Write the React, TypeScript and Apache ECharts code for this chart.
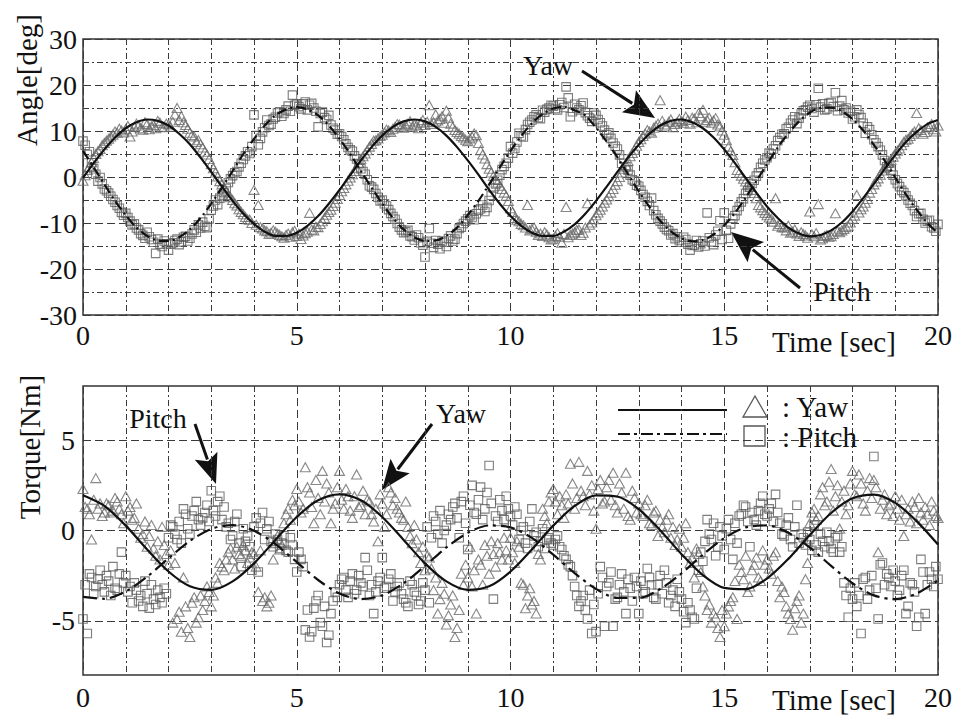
import React, { useEffect, useRef } from "react";
import * as echarts from "echarts";

const SERIF = "Liberation Serif, Times New Roman, serif";
const INK = "#111";
const GRID_INK = "#3a3a3a";
const TRI_INK = "#6a6a6a";
const SQR_INK = "#5c5c5c";

// Sampling periods (seconds): measured points (two interleaved channels) and fitted curves
const SAMPLE_DT = 0.1;
const SAMPLE_B_T0 = 0.05;
const ANGLE_FIT_DT = 0.25;
const TORQUE_FIT_DT = 0.5;

// Axis ticks
const angleTicks = [-30, -20, -10, 0, 10, 20, 30];
const torqueTicks = [-5, 0, 5];
const timeTicks = [0, 5, 10, 15, 20];

// Fitted curves
const angleYawFit = [
  -0.2, 3.0, 6.0, 8.6, 10.6, 11.9, 12.5, 12.2, 11.2, 9.4, 7.1, 4.2, 1.1, -2.1, -5.2, -8.0, -10.2, -11.9, -12.8, -12.8,
  -12.1, -10.6, -8.5, -5.8, -2.8, 0.4, 3.6, 6.5, 9.0, 10.9, 12.1, 12.5, 12.1, 10.9, 9.0, 6.5, 3.6, 0.5, -2.8, -5.8,
  -8.5, -10.6, -12.1, -12.8, -12.8, -11.9, -10.3, -8.0, -5.2, -2.1, 1.1, 4.2, 7.0, 9.4, 11.2, 12.2, 12.5, 11.9, 10.6,
  8.6, 6.0, 3.0, -0.2, -3.4, -6.4, -8.9, -11.0, -12.3, -12.9, -12.6, -11.6, -9.9, -7.5, -4.6, -1.5, 1.7, 4.8, 7.6, 9.8,
  11.5, 12.4,
];
const anglePitchFit = [
  5.7, 2.1, -1.6, -5.2, -8.3, -11.0, -12.8, -13.8, -13.9, -13.1, -11.4, -8.9, -5.8, -2.3, 1.3, 5.0, 8.3, 11.2, 13.4,
  14.7, 15.2, 14.7, 13.4, 11.2, 8.3, 5.0, 1.3, -2.3, -5.8, -8.9, -11.4, -13.1, -13.9, -13.8, -12.8, -11.0, -8.3, -5.2,
  -1.6, 2.1, 5.7, 8.9, 11.7, 13.7, 14.9, 15.2, 14.5, 13.4, 10.7, 7.7, 4.3, 0.6, -3.1, -6.5, -9.5, -11.8, -13.3, -14.0,
  -13.7, -12.5, -10.5, -7.8, -4.5, -0.9, 2.8, 6.4, 9.5, 12.1, 14.0, 15.0, 15.1, 14.3, 12.6, 10.1, 7.0, 3.6, -0.1, -3.8,
  -7.1, -10.0, -12.2,
];
const torqueYawFit = [
  1.95, 1.36, 0.27, -1.05, -2.27, -3.09, -3.29, -2.82, -1.82, -0.52, 0.75, 1.67, 2.0, 1.67, 0.75, -0.52, -1.82, -2.82,
  -3.29, -3.09, -2.27, -1.05, 0.27, 1.36, 1.95, 1.88, 1.18, 0.02, -1.31, -2.47, -3.18, -3.25, -2.66, -1.57, -0.25, 0.97,
  1.78, 1.99, 1.53, 0.52, -0.78,
];
const torquePitchFit = [
  -3.67, -3.78, -3.37, -2.56, -1.54, -0.58, 0.09, 0.3, -0.01, -0.76, -1.75, -2.74, -3.49, -3.8, -3.59, -2.92, -1.96,
  -0.94, -0.13, 0.28, 0.17, -0.41, -1.34, -2.36, -3.23, -3.73, -3.73, -3.24, -2.37, -1.34, -0.42, 0.17, 0.28, -0.13,
  -0.94, -1.96, -2.92, -3.59, -3.8, -3.49, -2.75,
];

// Measured points, channel A (t = 0, 0.1, ... 20)
const angleYawData = [
  -0.8, 1.5, 3.2, 5.0, 6.1, 7.4, 8.3, 9.2, 9.6, 10.1,
  10.4, 8.8, 10.9, 11.2, 10.3, 11.5, 11.0, 10.6, 11.8, 10.9,
  11.4, 12.0, 15.0, 13.2, 11.3, 9.6, 8.8, 8.0, 6.4, 4.9,
  2.8, 1.0, -0.9, -2.3, -3.9, -5.0, -6.2, -7.6, -8.7, -9.3,
  -2.8, -6.1, -11.2, -11.8, -12.1, -11.9, -12.6, -13.2, -12.3, -12.0,
  -12.8, -13.5, -12.2, -7.8, -11.6, -10.9, -9.6, -8.2, -7.1, -5.6,
  -3.9, -2.4, -0.8, 0.6, 2.0, 3.9, 5.1, 6.6, 7.9, 8.4,
  9.2, 10.3, 9.8, 10.9, 11.4, 10.7, 11.6, 10.9, 11.2, 11.8,
  11.3, 15.6, 11.9, 12.3, 13.2, 14.4, 11.6, 10.2, 9.4, 8.6,
  7.8, 8.8, 9.1, 5.8, 4.0, 1.8, 0.2, -1.2, -2.6, -4.1,
  -6.8, -8.9, -9.6, -10.5, -6.1, -11.3, -11.9, -12.3, -12.0, -13.1,
  -13.4, -12.2, -14.3, -6.5, -12.6, -12.0, -11.4, -12.1, -5.7, -9.9,
  -8.3, -7.1, -5.6, -4.2, -2.6, -0.9, 1.0, 2.6, 4.5, 5.9,
  7.6, 8.9, 10.2, 9.6, 11.1, 16.7, 11.4, 12.0, 10.8, 11.9,
  12.2, 13.1, 11.6, 12.7, 13.9, 14.6, 12.4, 11.8, 12.8, 11.0,
  9.2, 6.6, 4.8, 1.5, 0.3, -1.0, -2.1, -3.5, -6.1, -7.2,
  -8.3, -9.1, -4.6, -10.2, -11.0, -10.6, -11.9, -12.3, -12.0, -12.7,
  -7.5, -12.9, -5.9, -13.3, -12.6, -12.9, -7.9, -12.0, -11.3, -10.6,
  -9.1, -3.9, -7.0, -5.6, -3.4, -1.6, -0.3, 1.4, 2.5, 3.7,
  5.1, 6.2, 7.6, 8.3, 9.4, 13.9, 10.2, 9.8, 11.0, 10.4, 11.2,
];
const anglePitchData = [
  7.8, 4.9, 3.1, 0.6, -0.1, -2.6, -3.5, -4.9, -6.2, -7.7,
  -7.9, -9.6, -10.2, -11.5, -12.7, -12.0, -13.6, -16.6, -14.6, -13.9,
  -15.9, -14.3, -13.5, -14.1, -12.9, -13.3, -11.5, -10.4, -9.8, -11.0,
  -7.2, -5.0, -4.6, -3.4, -1.2, 0.3, 1.2, 3.0, 4.6, 5.1,
  13.5, 7.0, 9.8, 12.4, 11.5, 13.0, 14.2, 13.8, 15.4, 17.8,
  15.9, 14.8, 16.3, 15.6, 15.0, 10.9, 14.1, 12.5, 11.3, 10.2,
  9.4, 8.1, 6.4, 5.6, 3.9, 1.8, 0.6, -1.9, -2.7, -4.4,
  -5.0, -6.3, -7.9, -9.2, -10.9, -12.1, -11.6, -13.0, -12.6, -14.3,
  -17.4, -11.2, -15.3, -14.6, -13.9, -15.1, -12.8, -13.5, -11.2, -10.1,
  -9.1, -8.8, -8.0, -6.9, -7.5, -5.1, -2.4, -0.7, 1.6, 3.0,
  6.6, 6.2, 9.5, 8.7, 11.4, 12.4, 13.5, 12.7, 14.1, 15.0,
  15.4, 14.6, 16.2, 19.6, 13.1, 15.8, 14.6, 16.1, 13.3, 12.1,
  13.4, 11.8, 10.2, 9.6, 7.4, 6.1, 3.0, 2.2, 0.4, -0.9,
  -2.0, -3.8, -5.3, -4.6, -8.2, -9.6, -10.9, -11.7, -12.3, -13.0,
  -14.2, -13.6, -15.9, -14.8, -15.2, -13.9, -7.8, -14.1, -12.6, -9.5,
  -7.8, -13.3, -9.0, -7.3, -5.4, -3.6, -2.2, -0.7, 0.9, 3.0,
  4.2, 5.0, 6.8, 8.6, 9.4, 10.8, 12.4, 11.6, 13.7, 14.6,
  15.6, 14.1, 19.3, 15.9, 14.8, 16.2, 18.3, 15.4, 14.6, 13.9,
  12.6, 14.6, 12.9, 9.5, 10.3, 8.1, 6.6, 4.8, 2.2, 1.5,
  -0.6, -2.1, -3.4, -5.0, -6.2, -8.6, -7.9, -10.0, -9.4, -11.1, -10.3,
];
const torqueYawData = [
  2.3, 1.2, -0.5, 2.9, 1.5, 1.0, 1.4, 1.1, 1.6, 0.9,
  1.9, 1.3, 0.7, 0.1, -0.2, -0.9, 0.3, -1.4, -1.6, -0.8,
  -1.9, -5.1, -4.9, -5.6, -4.2, -5.9, -3.7, -4.8, -4.4, -3.1,
  -4.2, -2.6, -1.8, -2.2, -1.2, -1.6, -0.9, -1.4, -1.1, -1.5,
  -1.3, -3.4, -3.9, -4.2, -3.6, -0.7, -1.05, 0.4, 1.2, 1.7,
  2.3, 1.0, 3.5, 2.1, 0.4, 1.8, 3.3, 2.6, 0.4, 1.5,
  3.3, 1.2, 1.9, 0.7, 3.1, 1.4, 0.9, 1.6, 0.5, -0.6,
  1.5, 0.9, 2.1, 1.8, 1.0, 0.6, 0.2, -0.7, -0.5, -1.8,
  -2.2, -1.5, -3.3, -4.6, -2.9, -5.2, -4.1, -5.9, -4.4, -3.0,
  -2.6, -3.1, -4.6, -1.9, -0.8, -2.4, -1.3, -0.7, -1.6, -1.1,
  -0.4, -1.8, -0.9, -3.0, -3.6, -4.1, -4.6, -1.6, 0.8, 1.6,
  2.3, 0.9, 1.4, 2.0, 3.7, 1.2, 3.8, 1.9, 3.3, 2.5,
  0.1, 2.8, 1.6, 2.8, 3.2, 1.0, 2.1, 3.2, 0.6, 1.8,
  1.5, 0.8, 1.7, 0.3, 1.1, 0.6, -0.1, 0.9, 0.2, -0.5,
  -0.9, 0.4, -1.8, -2.6, -1.3, -3.1, -4.4, -5.1, -4.8, -5.9,
  -5.3, -4.2, -3.7, -4.9, -2.3, -1.4, -3.1, -1.9, -2.6, -1.1,
  -1.6, -2.4, -1.2, -3.7, -3.4, -4.6, -5.5, -3.9, -5.1, -2.7,
  0.4, 1.2, 0.8, 2.4, 1.6, 3.4, 1.9, 0.1, 2.2, 1.4,
  3.3, 1.9, 2.6, 1.1, 2.9, 2.8, -1.2, 1.7, 0.9, 1.5,
  1.9, 0.6, -0.3, 1.2, 1.6, 0.4, 1.0, 1.3, 0.3, 1.1, 0.7,
];
const torquePitchData = [
  -4.9, -5.7, -2.6, -3.1, -2.2, -3.4, -2.8, -2.0, -3.3, -1.2,
  -2.5, -3.1, -2.9, -3.9, -4.2, -3.5, -3.0, -4.1, -3.7, -3.2,
  -0.4, 0.2, -0.5, -0.7, 0.9, -0.2, 1.1, 0.6, 0.7, 1.4,
  2.2, 0.8, 1.9, 1.3, 0.4, -0.3, 0.9, -2.0, -0.6, -0.9,
  0.2, -2.3, 1.0, 0.1, -0.6, -0.2, -1.0, -0.3, -1.2, -0.8,
  -2.3, -1.6, -5.5, -5.9, -4.3, -3.6, -5.3, -6.2, -4.6, -3.4,
  -3.0, -2.6, -3.7, -2.4, -3.3, -2.9, -1.5, -3.6, -4.6, -2.8,
  -1.5, -3.1, -2.4, -3.4, -2.9, -3.8, -4.2, -3.0, -3.6, -3.9,
  -3.3, -4.0, 0.8, -0.2, -0.7, 0.3, 0.6, 1.5, -0.4, 1.9,
  -1.05, 2.5, 0.9, 2.4, 1.2, 3.6, -3.8, 0.5, 1.1, 1.9,
  0.8, 1.3, -0.5, 0.2, -1.0, 1.2, -0.1, -0.6, -1.0, -0.4,
  -0.8, -0.3, -1.05, -1.6, -2.0, -3.1, -4.2, -3.6, -4.9, -5.7,
  -5.6, -2.0, -5.3, -2.9, -5.3, -3.7, -2.4, -4.6, -3.2, -2.6,
  -4.6, -3.5, -2.1, -3.0, -3.8, -2.5, -2.2, -4.0, -3.3, -2.7,
  -3.8, -5.1, -4.4, -4.9, -2.2, -1.7, 0.6, -0.5, -1.4, 0.2,
  -1.05, 0.6, -1.6, -0.7, 0.9, 1.3, -0.9, 0.6, 1.1, 1.9,
  0.8, 1.5, 2.0, 0.4, -0.3, 0.7, -0.9, 1.4, -0.2, -0.8,
  -0.5, 0.3, -1.2, -0.6, -0.1, -1.0, -0.4, -1.2, -2.9, -4.8,
  -3.8, -4.2, -5.7, -2.6, -3.3, 4.1, -4.9, -1.8, -2.4, -3.1,
  -2.8, -3.3, -2.2, -4.2, -3.0, -5.3, -1.6, -4.6, -2.3, -3.1, -2.7,
];

// Measured points, channel B (t = 0.05, 0.15, ... 19.95)
const angleYawDataB = [
  0.4, 2.2, 4.1, 5.6, 6.9, 7.9, 8.8, 9.9, 10.5, 9.7,
  11.1, 9.9, 11.6, 10.6, 11.9, 10.4, 11.3, 12.2, 10.8, 11.6,
  10.9, 13.6, 12.4, 11.9, 10.5, 9.1, 7.6, 7.1, 5.5, 3.9,
  1.9, 0.1, -1.6, -3.1, -4.4, -5.7, -7.0, -8.1, -9.2, -10.0,
  -10.4, -10.9, -11.6, -12.4, -11.6, -12.3, -12.9, -12.6, -13.0, -11.7,
  -12.3, -12.7, -11.9, -11.4, -10.8, -10.2, -8.9, -7.6, -6.3, -4.8,
  -3.1, -1.6, -0.1, 1.3, 3.0, 4.5, 5.8, 7.2, 8.0, 8.9,
  9.7, 10.1, 10.5, 11.5, 10.9, 11.2, 12.1, 11.4, 10.6, 12.4,
  12.0, 11.5, 13.6, 12.6, 11.8, 12.9, 10.9, 9.8, 8.9, 8.1,
  8.4, 9.5, 7.4, 4.9, 2.8, 1.0, -0.6, -1.9, -3.4, -5.2,
  -7.6, -9.3, -10.2, -11.0, -11.6, -11.0, -12.6, -12.8, -12.5, -13.6,
  -12.8, -13.0, -12.4, -13.1, -12.3, -11.5, -12.6, -11.0, -10.4, -9.2,
  -7.7, -6.4, -4.9, -3.4, -1.7, 0.0, 1.8, 3.5, 5.2, 6.8,
  8.2, 9.4, 9.9, 10.7, 11.6, 12.2, 11.0, 12.5, 11.5, 12.6,
  11.8, 12.4, 12.9, 11.9, 13.2, 12.0, 12.9, 12.3, 11.4, 10.1,
  8.0, 5.6, 3.2, 0.9, -0.4, -1.6, -2.8, -4.6, -6.6, -7.8,
  -8.8, -9.7, -10.6, -10.9, -11.6, -12.1, -11.4, -12.8, -12.4, -13.2,
  -12.5, -12.2, -13.6, -12.8, -13.0, -12.4, -11.8, -11.6, -10.9, -9.9,
  -8.4, -7.7, -6.4, -4.8, -2.6, -1.0, 0.5, 1.9, 3.1, 4.4,
  5.7, 6.9, 8.1, 8.9, 9.9, 10.6, 9.4, 10.8, 11.5, 9.9,
];
const anglePitchDataB = [
  6.9, 5.5, 1.8, -0.9, -1.5, -3.0, -4.2, -5.5, -6.8, -8.3,
  -8.8, -10.4, -11.1, -12.3, -13.3, -13.0, -14.2, -13.5, -15.1, -14.5,
  -14.6, -13.8, -14.7, -13.1, -13.9, -12.4, -12.0, -11.1, -10.7, -9.1,
  -6.3, -6.0, -3.9, -2.5, -0.4, 0.9, 2.2, 3.8, 5.5, 6.6,
  9.0, 8.4, 10.7, 11.2, 12.6, 13.9, 13.2, 14.6, 14.3, 15.6,
  15.3, 15.9, 14.6, 16.0, 14.3, 13.8, 12.9, 13.4, 10.6, 9.3,
  8.8, 7.2, 5.9, 4.6, 2.9, 1.2, -0.6, -2.2, -3.6, -5.2,
  -5.8, -7.1, -8.6, -10.1, -11.5, -11.9, -12.8, -13.7, -13.2, -14.8,
  -14.0, -14.4, -13.8, -15.6, -14.2, -13.4, -13.9, -12.3, -10.9, -9.6,
  -8.4, -9.3, -7.2, -6.1, -6.6, -4.0, -1.5, 0.4, 2.3, 4.1,
  5.2, 7.6, 8.9, 10.3, 11.9, 13.1, 12.9, 14.5, 14.7, 15.6,
  14.9, 15.7, 15.1, 17.2, 14.2, 15.0, 15.5, 14.0, 12.8, 13.9,
  12.5, 11.1, 9.2, 8.4, 6.7, 4.8, 3.9, 1.5, -0.6, -1.8,
  -2.9, -4.4, -6.2, -7.3, -9.0, -10.2, -11.4, -12.6, -13.4, -13.8,
  -13.1, -14.6, -14.9, -13.8, -14.5, -15.0, -13.2, -14.7, -11.8, -13.6,
  -11.6, -10.2, -8.4, -6.4, -4.7, -3.0, -1.4, 0.2, 2.1, 3.7,
  5.2, 6.1, 7.9, 9.3, 10.5, 11.7, 13.1, 12.8, 14.4, 15.2,
  14.9, 15.7, 15.2, 14.6, 16.0, 15.3, 14.4, 16.6, 15.0, 14.3,
  13.1, 13.6, 11.7, 10.9, 9.2, 7.4, 5.8, 3.6, 3.0, 0.4,
  -1.4, -2.9, -4.1, -5.7, -7.3, -8.0, -9.2, -9.6, -10.8, -11.8,
];
const torqueYawDataB = [
  1.3, 0.9, 1.7, 1.2, 0.8, 1.5, 1.0, 1.8, 1.2, 0.4,
  1.1, 0.6, 1.5, -0.4, 0.5, -0.3, -1.0, -0.6, 0.2, -1.3,
  -1.1, -1.8, -4.5, -2.6, -5.4, -4.0, -5.1, -3.6, -3.9, -3.4,
  -3.6, -2.9, -2.0, -1.6, -1.0, -2.1, -1.3, -0.8, -1.8, -1.2,
  -2.0, -1.1, -3.7, -4.0, -1.6, -0.3, -0.8, 0.9, 0.6, 1.4,
  1.6, 1.2, 2.4, 1.3, 2.8, 0.9, 1.6, 2.1, 1.2, 2.4,
  1.7, 2.3, 1.1, 1.9, 1.3, 2.2, 1.7, 0.9, 1.2, 2.0,
  0.2, 2.4, 1.4, 1.2, 0.7, 1.6, -0.3, 0.3, -1.2, -0.9,
  -1.4, -2.1, -2.6, -3.8, -3.5, -4.7, -3.6, -5.4, -2.4, -1.9,
  -0.9, -2.2, -1.6, -3.0, -1.4, -0.6, -2.0, -1.2, -0.4, -1.6,
  -1.2, -0.6, -2.9, -4.3, -3.2, -3.9, -1.3, 1.2, 0.4, 2.1,
  1.6, 1.9, 0.7, 1.5, 2.6, 1.8, 2.2, 1.4, 2.0, 1.1,
  2.3, 1.5, 2.4, 1.7, 1.4, 2.6, 1.2, 0.8, 2.2, 1.0,
  0.9, 1.4, 0.4, 1.0, -0.3, 0.2, 0.6, -0.4, -0.8, 0.1,
  -0.4, -1.2, -1.5, -1.0, -2.3, -3.6, -4.1, -4.6, -5.4, -4.4,
  -4.6, -3.9, -2.8, -1.9, -2.7, -3.4, -2.2, -1.5, -2.8, -1.9,
  -2.1, -1.4, -2.8, -3.1, -4.2, -4.9, -4.3, -3.6, -4.6, -1.8,
  1.0, 0.6, 2.0, 1.4, 2.7, 1.1, 2.5, 1.6, 0.9, 2.6,
  2.0, 3.1, 1.5, 2.2, 1.8, 2.4, 1.2, 2.0, 1.4, 0.8,
  1.2, 1.7, 0.9, 0.5, 1.3, 1.8, 0.6, 0.9, 1.6, 0.8,
];
const torquePitchDataB = [
  -3.0, -2.4, -3.5, -2.7, -3.0, -2.5, -3.6, -3.2, -2.4, -2.9,
  -3.4, -4.0, -3.3, -3.6, -2.8, -4.3, -3.8, -3.3, -4.0, -3.5,
  0.3, -0.2, 0.5, 1.2, 0.1, 0.8, 1.6, 0.3, 1.0, 0.5,
  1.1, 1.6, 0.6, 0.2, -0.5, 0.5, -0.7, 0.1, -0.3, -2.2,
  0.7, 0.4, -0.5, 0.5, -0.9, -0.5, -0.7, -1.1, -0.4, -1.6,
  -1.2, -2.0, -4.4, -5.6, -3.9, -5.1, -4.2, -5.8, -3.9, -3.7,
  -2.7, -3.3, -2.8, -3.5, -2.5, -3.1, -2.2, -3.0, -3.4, -2.6,
  -3.2, -2.7, -3.9, -3.1, -3.5, -4.0, -2.8, -3.4, -4.1, -2.9,
  0.2, -0.4, 0.5, 1.1, 0.0, 0.9, 1.3, 0.7, 1.6, 0.4,
  1.4, 1.0, 1.7, 0.6, 2.1, 1.5, 0.8, 1.7, 0.6, 1.2,
  0.3, 0.9, 0.0, -0.7, 0.5, -0.3, -0.9, 0.1, -0.5, -0.7,
  -0.5, -0.9, -1.4, -1.9, -2.5, -3.6, -3.9, -4.4, -3.3, -4.1,
  -3.5, -2.6, -3.1, -2.3, -3.8, -3.0, -3.4, -2.7, -3.9, -3.1,
  -2.8, -3.4, -2.6, -3.7, -3.0, -3.5, -2.9, -3.6, -4.2, -3.4,
  -4.5, -4.0, -4.8, -3.2, -1.2, -0.6, -0.2, 0.4, -0.9, -0.3,
  0.1, -0.5, 0.4, 0.8, 1.4, 0.5, 1.0, 0.3, 1.5, 0.9,
  1.2, 0.5, 1.0, -0.2, 0.3, -0.5, 0.2, -0.7, -0.4, -0.1,
  -1.1, -0.8, -0.2, -0.9, -0.6, -1.2, -0.3, -0.9, -3.6, -3.2,
  -2.9, -3.6, -2.7, -3.8, -2.5, -3.2, -1.9, -3.0, -2.6, -2.2,
  -3.6, -2.5, -4.6, -2.9, -3.4, -4.8, -2.3, -3.0, -2.7, -2.0,
];

const toPairs = (values: number[], dt: number, t0 = 0) =>
  values.map((v, i) => [Math.round((t0 + i * dt) * 1000) / 1000, v]);

const DASH = [8, 4];
const DASH_DOT = [6, 3, 2, 3];

function arrow(x1: number, y1: number, x2: number, y2: number, len = 30, half = 12) {
  const dx = x2 - x1;
  const dy = y2 - y1;
  const d = Math.hypot(dx, dy);
  const ux = dx / d;
  const uy = dy / d;
  const bx = x2 - ux * len;
  const by = y2 - uy * len;
  const px = -uy * half;
  const py = ux * half;
  return [
    {
      type: "line",
      silent: true,
      shape: { x1, y1, x2: bx + ux * 4, y2: by + uy * 4 },
      style: { stroke: INK, lineWidth: 3 },
    },
    {
      type: "polygon",
      silent: true,
      shape: { points: [[x2, y2], [bx + px, by + py], [bx + ux * 6, by + uy * 6], [bx - px, by - py]] },
      style: { fill: INK },
    },
  ];
}

function label(text: string, x: number, y: number, size = 28, rotation = 0, align = "center", lineHeight?: number) {
  return {
    type: "text",
    silent: true,
    x,
    y,
    rotation,
    style: {
      text,
      fill: INK,
      fontFamily: SERIF,
      fontSize: size,
      align,
      verticalAlign: "middle",
      ...(lineHeight ? { lineHeight } : {}),
    },
  };
}

function timeAxis(gridIndex: number, margin: number) {
  return {
    type: "value",
    gridIndex,
    min: timeTicks[0],
    max: timeTicks[timeTicks.length - 1],
    interval: 5,
    axisLine: { show: false },
    axisTick: { show: false },
    axisLabel: {
      margin,
      color: INK,
      fontFamily: SERIF,
      fontSize: 28,
      formatter: (v: number) => (timeTicks.includes(v) ? String(v) : ""),
    },
    splitLine: { show: true, lineStyle: { color: GRID_INK, width: 1, type: DASH } },
    minorTick: { show: true, splitNumber: 5, length: 0 },
    minorSplitLine: { show: true, lineStyle: { color: GRID_INK, width: 1, type: DASH_DOT } },
  };
}

function scatter(a: number[], b: number[], xi: number, symbol: string, size: number[] | number, ink: string) {
  return {
    type: "scatter",
    xAxisIndex: xi,
    yAxisIndex: xi,
    symbol,
    symbolSize: size,
    data: [...toPairs(a, SAMPLE_DT), ...toPairs(b, SAMPLE_DT, SAMPLE_B_T0)],
    itemStyle: { color: "rgba(255,255,255,0)", borderColor: ink, borderWidth: 1.1 },
    z: 3,
  };
}

function fitLine(values: number[], dt: number, xi: number, type: any) {
  return {
    type: "line",
    xAxisIndex: xi,
    yAxisIndex: xi,
    data: toPairs(values, dt),
    smooth: 0.3,
    showSymbol: false,
    lineStyle: { color: INK, width: 2.2, type },
    z: 5,
  };
}

export default function App() {
  const ref = useRef<HTMLDivElement>(null);

  useEffect(() => {
    if (!ref.current) return;
    const chart = echarts.init(ref.current, undefined, { renderer: "svg" });

    const graphic: any[] = [
      label("Angle[deg]", 27, 80, 29, Math.PI / 2),
      label("Torque[Nm]", 30, 447, 29, Math.PI / 2),
      label("Time [sec]", 834, 342, 29),
      label("Time [sec]", 834, 700, 29),
      label("Yaw", 548, 65, 28),
      label("Pitch", 842, 291, 28),
      label("Pitch", 158, 418, 28),
      label("Yaw", 461, 413, 28),
      ...arrow(582, 71, 655, 118, 31, 13),
      ...arrow(800, 288, 731, 232, 32, 13),
      ...arrow(195, 424, 216, 484, 30, 12),
      ...arrow(432, 424, 382, 490, 30, 12),
      // legend
      { type: "line", silent: true, shape: { x1: 618, y1: 410, x2: 727, y2: 410 }, style: { stroke: INK, lineWidth: 2.2 } },
      {
        type: "line",
        silent: true,
        shape: { x1: 618, y1: 434, x2: 727, y2: 434 },
        style: { stroke: INK, lineWidth: 2.2, lineDash: [12, 4, 3, 4] },
      },
      {
        type: "polygon",
        silent: true,
        shape: { points: [[755, 396], [743, 417], [767, 417]] },
        style: { fill: "none", stroke: "#555", lineWidth: 1.3 },
      },
      {
        type: "rect",
        silent: true,
        shape: { x: 744, y: 426, width: 21, height: 20 },
        style: { fill: "none", stroke: "#555", lineWidth: 1.3 },
      },
      label(": Yaw", 782, 407, 29, 0, "left", 27),
      label(": Pitch", 782, 437, 29, 0, "left", 27),
    ];

    chart.setOption({
      animation: false,
      backgroundColor: "#fff",
      textStyle: { fontFamily: SERIF },
      grid: [
        { left: 83, top: 39, width: 856, height: 276, show: true, borderColor: "#333", borderWidth: 1.5 },
        { left: 83, top: 386, width: 856, height: 289, show: true, borderColor: "#333", borderWidth: 1.5 },
      ],
      xAxis: [timeAxis(0, 6), timeAxis(1, 8)],
      yAxis: [
        {
          type: "value",
          gridIndex: 0,
          min: angleTicks[0],
          max: angleTicks[angleTicks.length - 1],
          interval: 10,
          axisLine: { show: false },
          axisTick: { show: false },
          axisLabel: { margin: 6, color: INK, fontFamily: SERIF, fontSize: 28 },
          splitLine: { show: true, lineStyle: { color: GRID_INK, width: 1, type: DASH } },
          minorTick: { show: true, splitNumber: 2, length: 0 },
          minorSplitLine: { show: true, lineStyle: { color: GRID_INK, width: 1, type: DASH_DOT } },
        },
        {
          type: "value",
          gridIndex: 1,
          min: -8,
          max: 8,
          interval: 1,
          axisLine: { show: false },
          axisTick: { show: false },
          axisLabel: {
            margin: 8,
            color: INK,
            fontFamily: SERIF,
            fontSize: 28,
            formatter: (v: number) => (torqueTicks.includes(v) ? String(v) : ""),
          },
          splitLine: { show: false },
        },
      ],
      series: [
        scatter(angleYawData, angleYawDataB, 0, "triangle", [10, 9], TRI_INK),
        scatter(anglePitchData, anglePitchDataB, 0, "rect", 8.5, SQR_INK),
        fitLine(angleYawFit, ANGLE_FIT_DT, 0, "solid"),
        fitLine(anglePitchFit, ANGLE_FIT_DT, 0, [10, 4, 2, 4]),
        {
          ...scatter(torqueYawData, torqueYawDataB, 1, "triangle", [10, 9], TRI_INK),
          markLine: {
            silent: true,
            symbol: ["none", "none"],
            label: { show: false },
            lineStyle: { color: GRID_INK, width: 1, type: DASH },
            data: torqueTicks.map((v) => ({ yAxis: v })),
            z: 1,
          },
        },
        scatter(torquePitchData, torquePitchDataB, 1, "rect", 8.5, SQR_INK),
        fitLine(torqueYawFit, TORQUE_FIT_DT, 1, "solid"),
        fitLine(torquePitchFit, TORQUE_FIT_DT, 1, [14, 5, 3, 5]),
      ],
      graphic,
    });

    return () => chart.dispose();
  }, []);

  return (
    <div
      ref={ref}
      style={{ position: "fixed", left: 0, top: 0, width: 955, height: 715, background: "#fff" }}
    />
  );
}
